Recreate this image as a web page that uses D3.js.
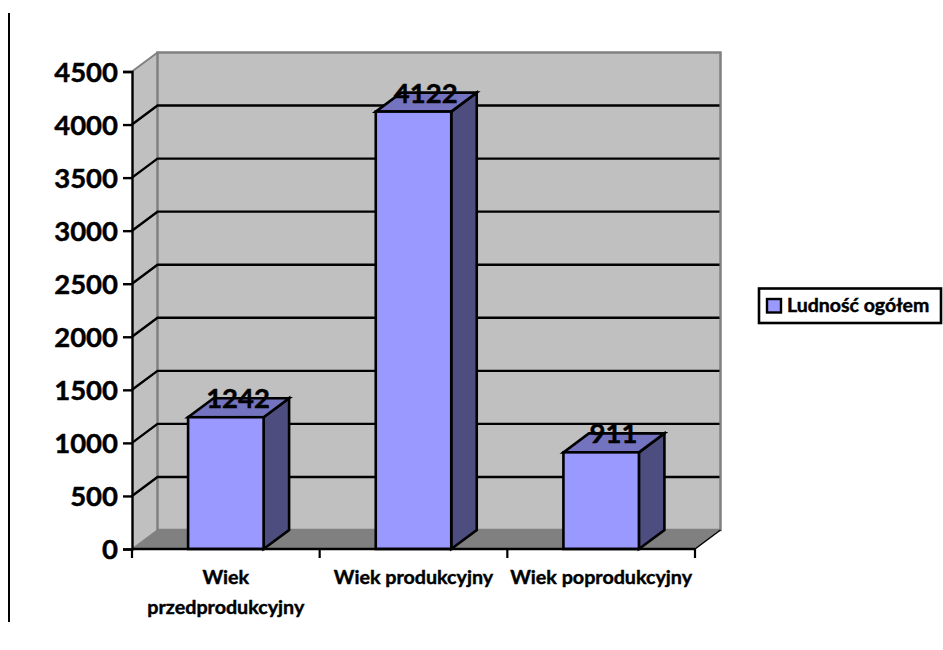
<!DOCTYPE html>
<html><head><meta charset="utf-8">
<style>html,body{margin:0;padding:0;background:#fff}svg{display:block}text{font-family:Lato,"Noto Sans",sans-serif;font-weight:700;fill:#000;stroke:#000;stroke-width:.45px}</style>
<script src="https://cdn.jsdelivr.net/npm/d3@7"></script></head><body>
<script>
const categories=["Wiek przedprodukcyjny","Wiek produkcyjny","Wiek poprodukcyjny"];
const categoryLines=[["Wiek","przedprodukcyjny"],["Wiek produkcyjny"],["Wiek poprodukcyjny"]];
const values=[1242,4122,911];
const yTicks=[0,500,1000,1500,2000,2500,3000,3500,4000,4500];
const seriesName="Ludność ogółem";

const W=943,H=650;
const svg=d3.select("body").append("svg").attr("width",W).attr("height",H);
const x=d3.scaleBand().domain(categories).range([132,695]).paddingInner(0).paddingOuter(0);
const y=d3.scaleLinear().domain([0,4500]).range([549,71.5]);
const dx=25.5,dy=-19,barW=75.5;
const pts=a=>a.map(p=>p.join(",")).join(" ");
const [x0,x1]=x.range(),[y0,yT]=y.range();

svg.append("line").attr("x1",9).attr("x2",9).attr("y1",13).attr("y2",622).attr("stroke","#000").attr("stroke-width",2);

// walls
svg.append("polygon").attr("points",pts([[x0,y0],[x1,y0],[x1+dx,y0+dy],[x0+dx,y0+dy]])).attr("fill","#808080");
svg.append("polygon").attr("points",pts([[x0,y0],[x0,yT],[x0+dx,yT+dy],[x0+dx,y0+dy]])).attr("fill","#c0c0c0");
svg.append("rect").attr("x",x0+dx).attr("y",yT+dy).attr("width",x1-x0).attr("height",y0-yT).attr("fill","#c0c0c0").attr("stroke","#808080").attr("stroke-width",2.5);
svg.append("polyline").attr("points",pts([[x0,y0],[x0+dx,y0+dy]])).attr("stroke","#808080").attr("stroke-width",1.5).attr("fill","none");
svg.append("line").attr("x1",x0).attr("y1",yT).attr("x2",x0+dx).attr("y2",yT+dy).attr("stroke","#808080").attr("stroke-width",2);

// gridlines
const gt=yTicks.filter(d=>d>0&&d<4500);
svg.append("g").selectAll("polyline").data(gt).join("polyline")
 .attr("points",d=>pts([[x0,y(d)],[x0+dx,y(d)+dy],[x1+dx-1,y(d)+dy]]))
 .attr("fill","none").attr("stroke","#000").attr("stroke-width",2.4);

// floor edge
svg.append("line").attr("x1",x1).attr("y1",y0).attr("x2",x1+dx).attr("y2",y0+dy).attr("stroke","#000").attr("stroke-width",1.5);

// bars
const bars=svg.append("g").selectAll("g").data(categories.map((c,i)=>({c,v:values[i]}))).join("g");
const L=d=>x(d.c)+(x.bandwidth()-barW)/2, R=d=>L(d)+barW;
bars.append("polygon").attr("points",d=>pts([[R(d),y(0)],[R(d),y(d.v)],[R(d)+dx,y(d.v)+dy],[R(d)+dx,y(0)+dy]])).attr("fill","#4d4d80");
bars.append("polygon").attr("points",d=>pts([[L(d),y(d.v)],[R(d),y(d.v)],[R(d)+dx,y(d.v)+dy],[L(d)+dx,y(d.v)+dy]])).attr("fill","#7373bf");
bars.append("rect").attr("x",L).attr("y",d=>y(d.v)).attr("width",barW).attr("height",d=>y(0)-y(d.v)).attr("fill","#9999ff");
bars.selectAll("polygon,rect").attr("stroke","#000").attr("stroke-width",2.6).attr("stroke-linejoin","miter");

// axes
const yAxis=d3.axisLeft(y).tickValues(yTicks).tickSize(9).tickPadding(5).tickFormat(d3.format("d"));
const ya=svg.append("g").attr("transform",`translate(${x0},0)`).call(yAxis);
ya.select(".domain").attr("stroke","#000").attr("stroke-width",2.4);
ya.selectAll(".tick line").attr("stroke","#000").attr("stroke-width",2.4);
ya.selectAll("text").attr("font-size",27.5).style("font-family",'Lato,"Noto Sans",sans-serif').attr("font-weight",700).attr("dy","0.35em");

const xa=svg.append("g");
xa.append("line").attr("x1",x0).attr("x2",x1).attr("y1",y0).attr("y2",y0).attr("stroke","#000").attr("stroke-width",2.6);
const edges=[...categories.map(c=>x(c)),x1];
xa.selectAll(".t").data(edges).join("line").attr("class","t").attr("x1",d=>d).attr("x2",d=>d).attr("y1",y0).attr("y2",y0+9).attr("stroke","#000").attr("stroke-width",2.2);

// category labels
const lab=svg.append("g").selectAll("text").data(categories).join("text")
 .attr("text-anchor","middle").attr("font-size",19.7);
lab.each(function(c,i){
  const ls=categoryLines[i];
  d3.select(this).selectAll("tspan").data(ls).join("tspan")
   .attr("x",x(c)+x.bandwidth()/2).attr("y",(d,j)=>584+j*29.5).text(d=>d);
});

// data labels
svg.append("g").selectAll("text").data(categories.map((c,i)=>({c,v:values[i]}))).join("text")
 .attr("x",d=>x(d.c)+x.bandwidth()/2+dx/2-0.5).attr("y",d=>y(d.v)-9).attr("text-anchor","middle").attr("font-size",27.5).text(d=>d.v);

// legend
const lg=svg.append("g");
lg.append("rect").attr("x",759).attr("y",288.5).attr("width",182).attr("height",34.5).attr("fill","#fff").attr("stroke","#000").attr("stroke-width",2.6);
lg.append("rect").attr("x",767).attr("y",299).attr("width",14).attr("height",13.5).attr("fill","#9999ff").attr("stroke","#000").attr("stroke-width",2.4);
lg.append("text").attr("x",787).attr("y",312).attr("font-size",19.5).text(seriesName);
</script></body></html>
